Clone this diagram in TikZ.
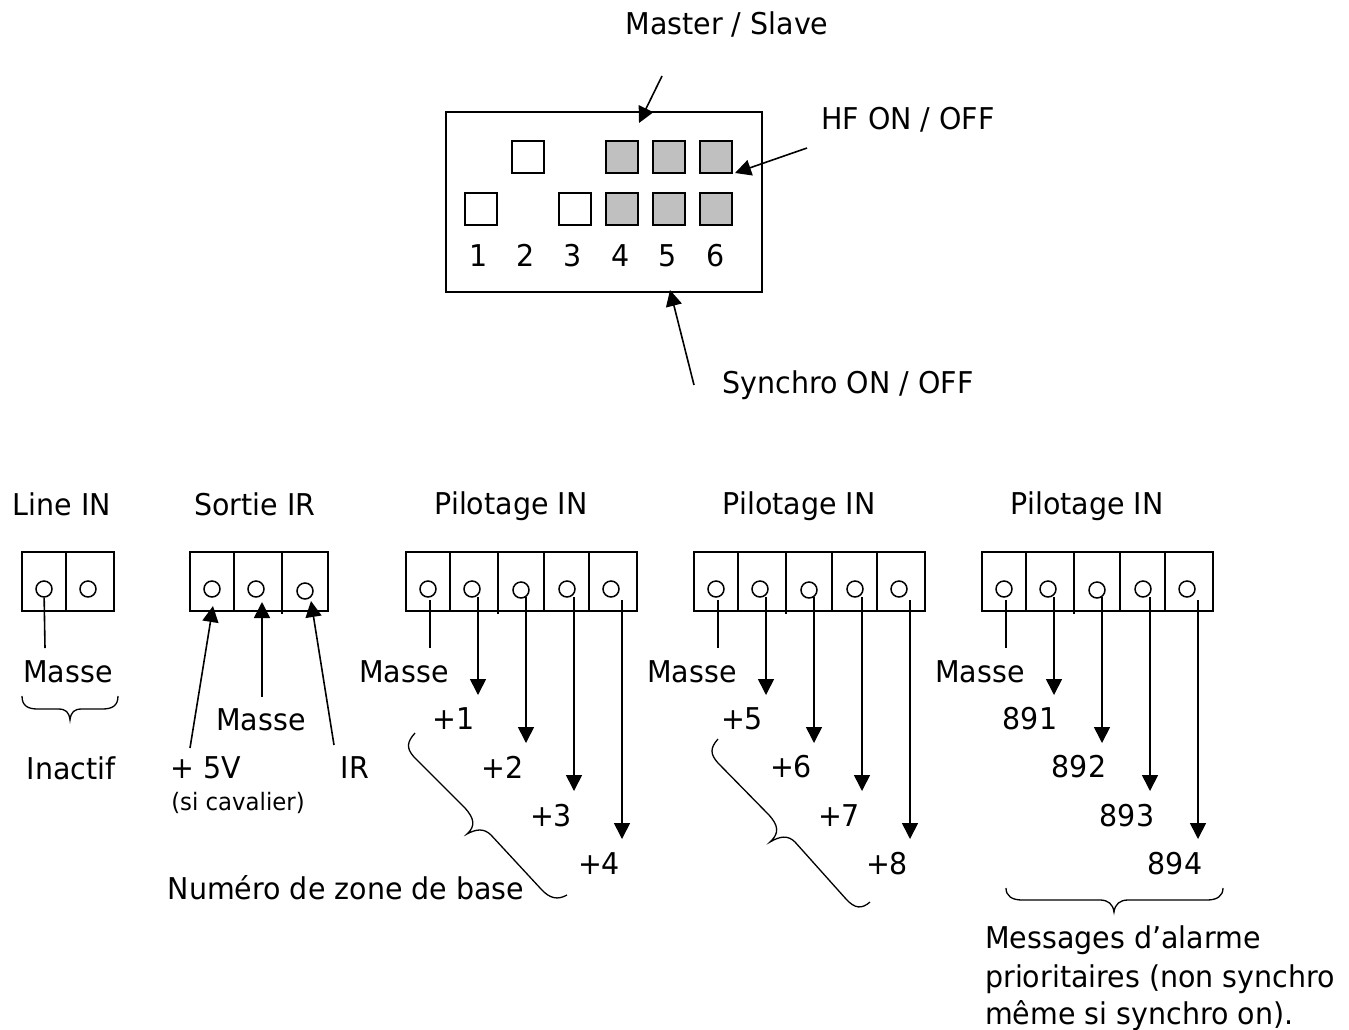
\documentclass[tikz,border=0pt]{standalone}
\usepackage{fontspec}
\setmainfont{DejaVu Sans}[FakeStretch=0.95]
\usetikzlibrary{arrows.meta}
\definecolor{dipgray}{HTML}{C0C0C0}
\tikzset{
  lbl/.style={inner sep=0pt,font=\fontsize{30}{34}\selectfont},
  lblsmall/.style={inner sep=0pt,font=\fontsize{24}{28}\selectfont},
  pin/.style={circle,draw,line width=1.5pt,minimum size=16pt,inner sep=0pt},
  dip/.style={draw,line width=1.7pt,minimum size=32pt,inner sep=0pt},
  dipon/.style={dip,fill=dipgray},
  arr/.style={line width=1.6pt,-{Triangle[length=16pt,width=16pt]}},
  wire/.style={line width=1.6pt},
  frame/.style={line width=1.8pt},
  brc/.style={line width=1.3pt}
}
\begin{document}
\begin{tikzpicture}[x=1pt,y=-1pt]
\useasboundingbox (0,0) rectangle (1349,1029);
% switch block
\draw[frame] (446,112) rectangle (762,292);
\node[dip] (sw2) at (528,157) {};
\node[dipon] (sw4) at (622,157) {};
\node[dipon] (sw5) at (669,157) {};
\node[dipon] (sw6) at (716,157) {};
\node[dip] (sa1) at (481,209) {};
\node[dip] (sa3) at (575,209) {};
\node[dipon] (sa4) at (622,209) {};
\node[dipon] (sa5) at (669,209) {};
\node[dipon] (sa6) at (716,209) {};
\foreach \n/\x in {1/479,2/526,3/573,4/621,5/668,6/716}
  \node[lbl,anchor=base] (num\n) at (\x,266) {\n};
\node[lbl] (master) at (727,24) {Master / Slave};
\node[lbl] (hf) at (908,120) {HF ON / OFF};
\node[lbl] (synchro) at (848,385) {Synchro ON / OFF};
\coordinate (masterA) at (662,76);
\coordinate (masterB) at (639,123);
\coordinate (hfA) at (807,148);
\coordinate (hfB) at (735,173);
\coordinate (synA) at (694,385);
\coordinate (synB) at (670,290);
\draw[arr] (masterA) -- (masterB);
\draw[arr] (hfA) -- (hfB);
\draw[arr] (synA) -- (synB);
% Line IN
\node[lbl] (tline) at (62,504) {Line IN};
\draw[frame] (22,552) rectangle (114,611);
\draw[frame] (66,552) -- (66,611);
\node[pin] (la) at (44,589) {};
\node[pin] (lb) at (88,589) {};
\node[lbl] (lmasse) at (68,672) {Masse};
\coordinate (lend) at (45,648);
\draw[wire] (la) -- (lend);
\draw[brc] (22,696) .. controls (22,706) and (28,709) .. (38,709) -- (58,709) .. controls (66,709) and (69,712) .. (70,720) .. controls (71,712) and (74,709) .. (82,709) -- (102,709) .. controls (112,709) and (118,706) .. (118,696);
\node[lbl] (linactif) at (71,768) {Inactif};
% Sortie IR
\node[lbl] (tsortie) at (255,504) {Sortie IR};
\draw[frame] (190,552) rectangle (328,611);
\draw[frame] (234,552) -- (234,611);
\draw[frame] (282,552) -- (282,614);
\node[pin] (sa) at (212,589) {};
\node[pin] (sb) at (256,589) {};
\node[pin] (sc) at (305,591) {};
\coordinate (sAe) at (190,748);
\coordinate (sAt) at (213,606);
\coordinate (sBe) at (262,697);
\coordinate (sBt) at (262,602);
\coordinate (sCe) at (334,745);
\coordinate (sCt) at (311,601);
\draw[arr] (sAe) -- (sAt);
\draw[arr] (sBe) -- (sBt);
\draw[arr] (sCe) -- (sCt);
\node[lbl] (smasse) at (261,720) {Masse};
\node[lbl] (sfive) at (206,768) {+ 5V};
\node[lblsmall] (scav) at (238,803) {(si cavalier)};
\node[lbl] (sir) at (355,768) {IR};
% three Pilotage connectors
\foreach \k/\dx/\a/\b/\c/\d in {p/0/+1/+2/+3/+4,q/288/+5/+6/+7/+8,r/576/891/892/893/894}{
  \begin{scope}[xshift=\dx]
  \node[lbl] (t\k) at (511,506) {Pilotage IN};
  \draw[frame] (406,552) rectangle (637,611);
  \foreach \x/\y in {450/611,498/614,544/611,589/611}
    \draw[frame] (\x,552) -- (\x,\y);
  \node[pin] (\k a) at (428,589) {};
  \node[pin] (\k b) at (472,589) {};
  \node[pin] (\k c) at (521,590) {};
  \node[pin] (\k d) at (567,589) {};
  \node[pin] (\k e) at (611,589) {};
  \node[lbl] (\k m) at (404,672) {Masse};
  \coordinate (\k ms) at (430,600);
  \coordinate (\k me) at (430,648);
  \draw[wire] (\k ms) -- (\k me);
  \coordinate (\k s1) at (478,597);
  \coordinate (\k s2) at (526,597);
  \coordinate (\k s3) at (574,597);
  \coordinate (\k s4) at (622,600);
  \coordinate (\k 1) at (478,695);
  \coordinate (\k 2) at (526,743);
  \coordinate (\k 3) at (574,791);
  \coordinate (\k 4) at (622,839);
  \draw[arr] (\k s1) -- (\k 1);
  \draw[arr] (\k s2) -- (\k 2);
  \draw[arr] (\k s3) -- (\k 3);
  \draw[arr] (\k s4) -- (\k 4);
  \node[lbl] (\k l1) at (454,719) {\a};
  \node[lbl] (\k l2) at (503,767) {\b};
  \node[lbl] (\k l3) at (551,816) {\c};
  \node[lbl] (\k l4) at (599,864) {\d};
  \end{scope}
}
% braces
\draw[brc] (415,733) .. controls (407,742) and (406,748) .. (414,757) -- (465,808) .. controls (474,818) and (476,826) .. (467,834) .. controls (476,829) and (484,828) .. (491,835) -- (541,889) .. controls (550,899) and (558,900) .. (567,895);
\node[lbl] (zone) at (346,888) {Numéro de zone de base};
\draw[brc] (718,739) .. controls (710,748) and (710,754) .. (718,763) -- (769,815) .. controls (778,825) and (780,833) .. (770,842) .. controls (780,836) and (788,835) .. (795,842) -- (846,899) .. controls (855,909) and (862,909) .. (870,902);
\draw[brc] (1006,888) .. controls (1006,896) and (1012,900) .. (1022,900) -- (1100,900) .. controls (1108,900) and (1113,904) .. (1114,912) .. controls (1115,904) and (1120,900) .. (1128,900) -- (1207,900) .. controls (1217,900) and (1223,896) .. (1223,888);
\node[lbl,anchor=base west] (msg1) at (985,948) {Messages d’alarme};
\node[lbl,anchor=base west] (msg2) at (985,987) {prioritaires (non synchro};
\node[lbl,anchor=base west] (msg3) at (985,1024) {même si synchro on).};
\end{tikzpicture}
\end{document}
